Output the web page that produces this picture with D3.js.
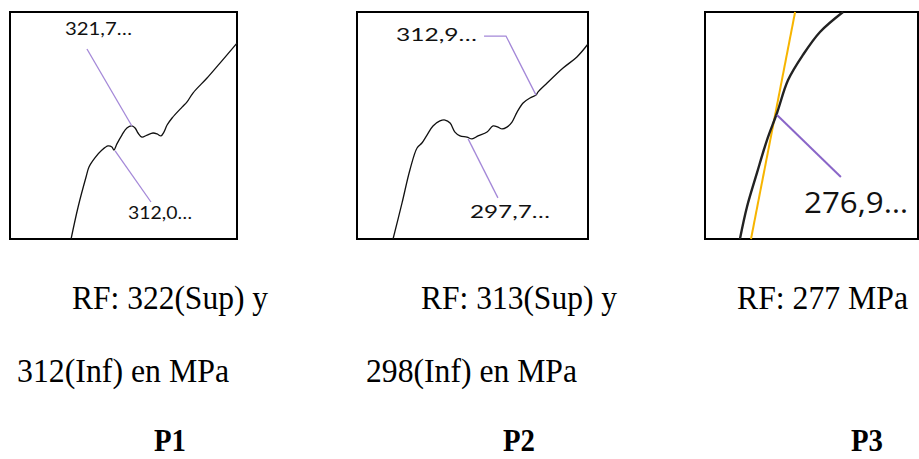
<!DOCTYPE html>
<html>
<head>
<meta charset="utf-8">
<script src="https://cdn.jsdelivr.net/npm/d3@7"></script>
<style>
  body { margin:0; background:#fff; }
  svg { display:block; }
</style>
</head>
<body>
<div id="plot"></div>
<script>
// curves, in 0-100 units of each little box (y up)
var p1Curve = [
  [26.9,0],[30.0,14.1],[33.5,27.3],[34.8,31.7],[37.4,35.7],[40.5,39.2],[43.2,41.0],
  [44.9,40.5],[45.8,39.2],[47.1,41.9],[49.3,45.8],[51.5,48.9],[53.7,49.8],[55.1,48.9],
  [56.4,46.7],[58.1,44.9],[60.4,45.8],[63.0,46.7],[64.8,46.3],[66.5,45.4],[67.8,47.1],
  [69.2,50.2],[71.4,53.3],[75.8,58.1],[78.0,60.4],[80.6,64.3],[86.8,70.9],[92.5,77.5],[100,86.3]
];
var p2Curve = [
  [15.6,0],[19.5,15.9],[22.9,30.4],[26.0,40.1],[28.1,42.3],[30.3,45.8],[32.9,49.8],
  [35.9,52.0],[38.1,52.4],[40.3,51.1],[42.4,47.1],[44.6,45.4],[47.6,44.9],[49.8,44.1],
  [52.4,45.4],[56.3,47.1],[58.9,49.8],[61.0,49.3],[62.8,48.5],[64.9,49.3],[67.1,51.5],
  [69.3,55.9],[71.9,59.9],[74.9,62.1],[77.5,63.4],[78.4,64.8],[82.3,68.7],[89.2,75.3],
  [95.2,80.2],[100,85.9]
];
var p3Curve = [
  [16.4,0],[19.7,14.1],[24.4,29.1],[29.1,43.6],[33.8,55.5],[39.0,70.0],[46.0,81.1],
  [54.0,91.2],[64.8,100]
];
var p3Offset = [[21.6,0],[42.3,100]];

// callouts: leader points and label
var p1Notes = [
  {text:"321,7…", pts:[[53.7,49.8],[33.9,83.7]], lx:24.2, ly:89.9, len:67},
  {text:"312,0…", pts:[[46.3,38.8],[62.1,16.3]], lx:52.0, ly:8.8, len:64}
];
var p2Notes = [
  {text:"312,9…", pts:[[77.5,63.4],[64.5,89.4],[55.0,89.4]], lx:16.9, ly:87.2, len:81},
  {text:"297,7…", pts:[[48.1,44.1],[61.0,18.1]], lx:48.9, ly:9.3, len:80}
];
var p3Notes = [
  {text:"276,9…", pts:[[33.8,54.6],[63.8,27.3]], lx:46.5, ly:11.5, len:104}
];

var rfLines = [
  ["RF: 322(Sup) y", "312(Inf) en MPa"],
  ["RF: 313(Sup) y", "298(Inf) en MPa"],
  ["RF: 277 MPa"]
];
var panelNames = ["P1","P2","P3"];

var svg = d3.select('#plot').append('svg')
  .attr('width',919).attr('height',459);

var panels = [
  {box:[10,12,227,227], curves:[{d:p1Curve,c:'#111',w:1.3}], notes:p1Notes,
   font:'Lato', fs:17, lead:'#a488d8', lw:1.3, bw:2},
  {box:[357,12,231,227], curves:[{d:p2Curve,c:'#111',w:1.3}], notes:p2Notes,
   font:'Lato', fs:18, lead:'#a488d8', lw:1.3, bw:2},
  {box:[705,12,213,227], curves:[{d:p3Offset,c:'#f7b500',w:2},{d:p3Curve,c:'#222',w:2.4}], notes:p3Notes,
   font:'Open Sans', fs:30, lead:'#8a66c8', lw:2, bw:2}
];

panels.forEach(function(p){
  var b = p.box;
  var x = d3.scaleLinear().domain([0,100]).range([b[0], b[0]+b[2]]);
  var y = d3.scaleLinear().domain([0,100]).range([b[1]+b[3], b[1]]);
  var g = svg.append('g');

  g.append('rect')
    .attr('x',b[0]).attr('y',b[1]).attr('width',b[2]).attr('height',b[3])
    .attr('fill','#fff').attr('stroke','#000').attr('stroke-width',p.bw);

  var line = d3.line()
    .x(function(d){return x(d[0])})
    .y(function(d){return y(d[1])})
    .curve(d3.curveCatmullRom);

  p.curves.forEach(function(c){
    g.append('path').datum(c.d)
      .attr('d',line)
      .attr('fill','none').attr('stroke',c.c).attr('stroke-width',c.w);
  });

  var straight = d3.line().x(function(d){return x(d[0])}).y(function(d){return y(d[1])});
  g.selectAll('.lead').data(p.notes).enter().append('path')
    .attr('class','lead')
    .attr('d',function(d){return straight(d.pts)})
    .attr('fill','none').attr('stroke',p.lead).attr('stroke-width',p.lw);

  g.selectAll('.note').data(p.notes).enter().append('text')
    .attr('class','note')
    .attr('x',function(d){return x(d.lx)})
    .attr('y',function(d){return y(d.ly)})
    .attr('textLength',function(d){return d.len})
    .attr('lengthAdjust','spacingAndGlyphs')
    .style('font-family',p.font).style('font-size',p.fs+'px').style('fill','#111')
    .text(function(d){return d.text});
});

// captions under the boxes
var capX = [[72,17],[421,366],[737]];
var capW = [[196,212],[196,211],[171]];
var capY = [309,382];
rfLines.forEach(function(lines,i){
  lines.forEach(function(t,j){
    svg.append('text')
      .attr('x',capX[i][j]).attr('y',capY[j])
      .attr('textLength',capW[i][j]).attr('lengthAdjust','spacingAndGlyphs')
      .style('font-family','Liberation Serif').style('font-size','33px')
      .text(t);
  });
});

var nameX = [154,503,851];
svg.selectAll('.pname').data(panelNames).enter().append('text')
  .attr('class','pname')
  .attr('x',function(d,i){return nameX[i]}).attr('y',451)
  .attr('textLength',32).attr('lengthAdjust','spacingAndGlyphs')
  .style('font-family','Liberation Serif').style('font-size','32px').style('font-weight','bold')
  .text(function(d){return d});
</script>
</body>
</html>
